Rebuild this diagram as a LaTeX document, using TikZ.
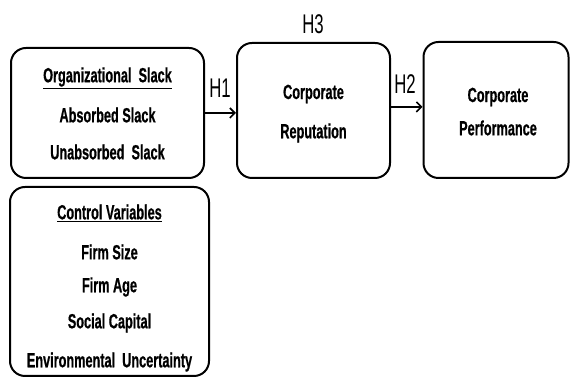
\documentclass[tikz,border=0pt]{standalone}
\usepackage{fontspec}
\setmainfont{Liberation Sans}
\newfontfamily\condbold[FakeStretch=0.62,FakeBold=0.6]{Liberation Sans Bold}
\newfontfamily\condreg[FakeStretch=0.62]{Liberation Sans}
\usetikzlibrary{arrows.meta}
\begin{document}
\begin{tikzpicture}[x=1pt,y=1pt,
  boxstyle/.style={draw,line width=2pt,rounded corners=15pt,inner sep=0pt},
  txt/.style={font=\condbold\fontsize{20.5}{20.5}\selectfont,inner sep=0pt,anchor=center},
  hlab/.style={font=\condreg\fontsize{27}{27}\selectfont,inner sep=0pt},
  arr/.style={line width=2pt,-{Straight Barb[length=5pt,width=10pt,line width=1.6pt]}}]
\useasboundingbox (0,0) rectangle (570,379);
\node[boxstyle,minimum width=193pt,minimum height=130pt] (b1) at (107.5,266) {};
\node[boxstyle,minimum width=199pt,minimum height=189pt] (b2) at (109.5,97.5) {};
\node[boxstyle,minimum width=153pt,minimum height=135pt] (b3) at (313.5,268.5) {};
\node[boxstyle,minimum width=145pt,minimum height=136pt] (b4) at (496,269) {};
% texts box 1
\node[txt] (t11) at (107.5,301) {\underline{Organizational\ \ Slack}};
\node[txt] (t12) at (107.5,264) {Absorbed Slack};
\node[txt] (t13) at (107.5,227) {Unabsorbed\ \ Slack};
% control
\node[txt] (t21) at (109.5,166) {\underline{Control\ Variables}};
\node[txt] (t22) at (109.5,127) {Firm Size};
\node[txt] (t23) at (109.5,92) {Firm Age};
\node[txt] (t24) at (109.5,56) {Social Capital};
\node[txt] (t25) at (109.5,17) {Environmental\ \ Uncertainty};
% reputation
\node[txt] (t31) at (313.5,285) {Corporate};
\node[txt] (t32) at (313.5,246) {Reputation};
% performance
\node[txt] (t41) at (498,282) {Corporate};
\node[txt] (t42) at (498,251) {Performance};
% arrows
\draw[arr] (b1.east) -- (b1.east -| b3.west);
\draw[arr] ([yshift=3.5pt]b3.east) -- ([yshift=3.5pt]b3.east -| b4.west);
\node[hlab] (h1) at (220,291) {H1};
\node[hlab] (h2) at (405,295) {H2};
\node[hlab] (h3) at (313,355) {H3};
\end{tikzpicture}
\end{document}
